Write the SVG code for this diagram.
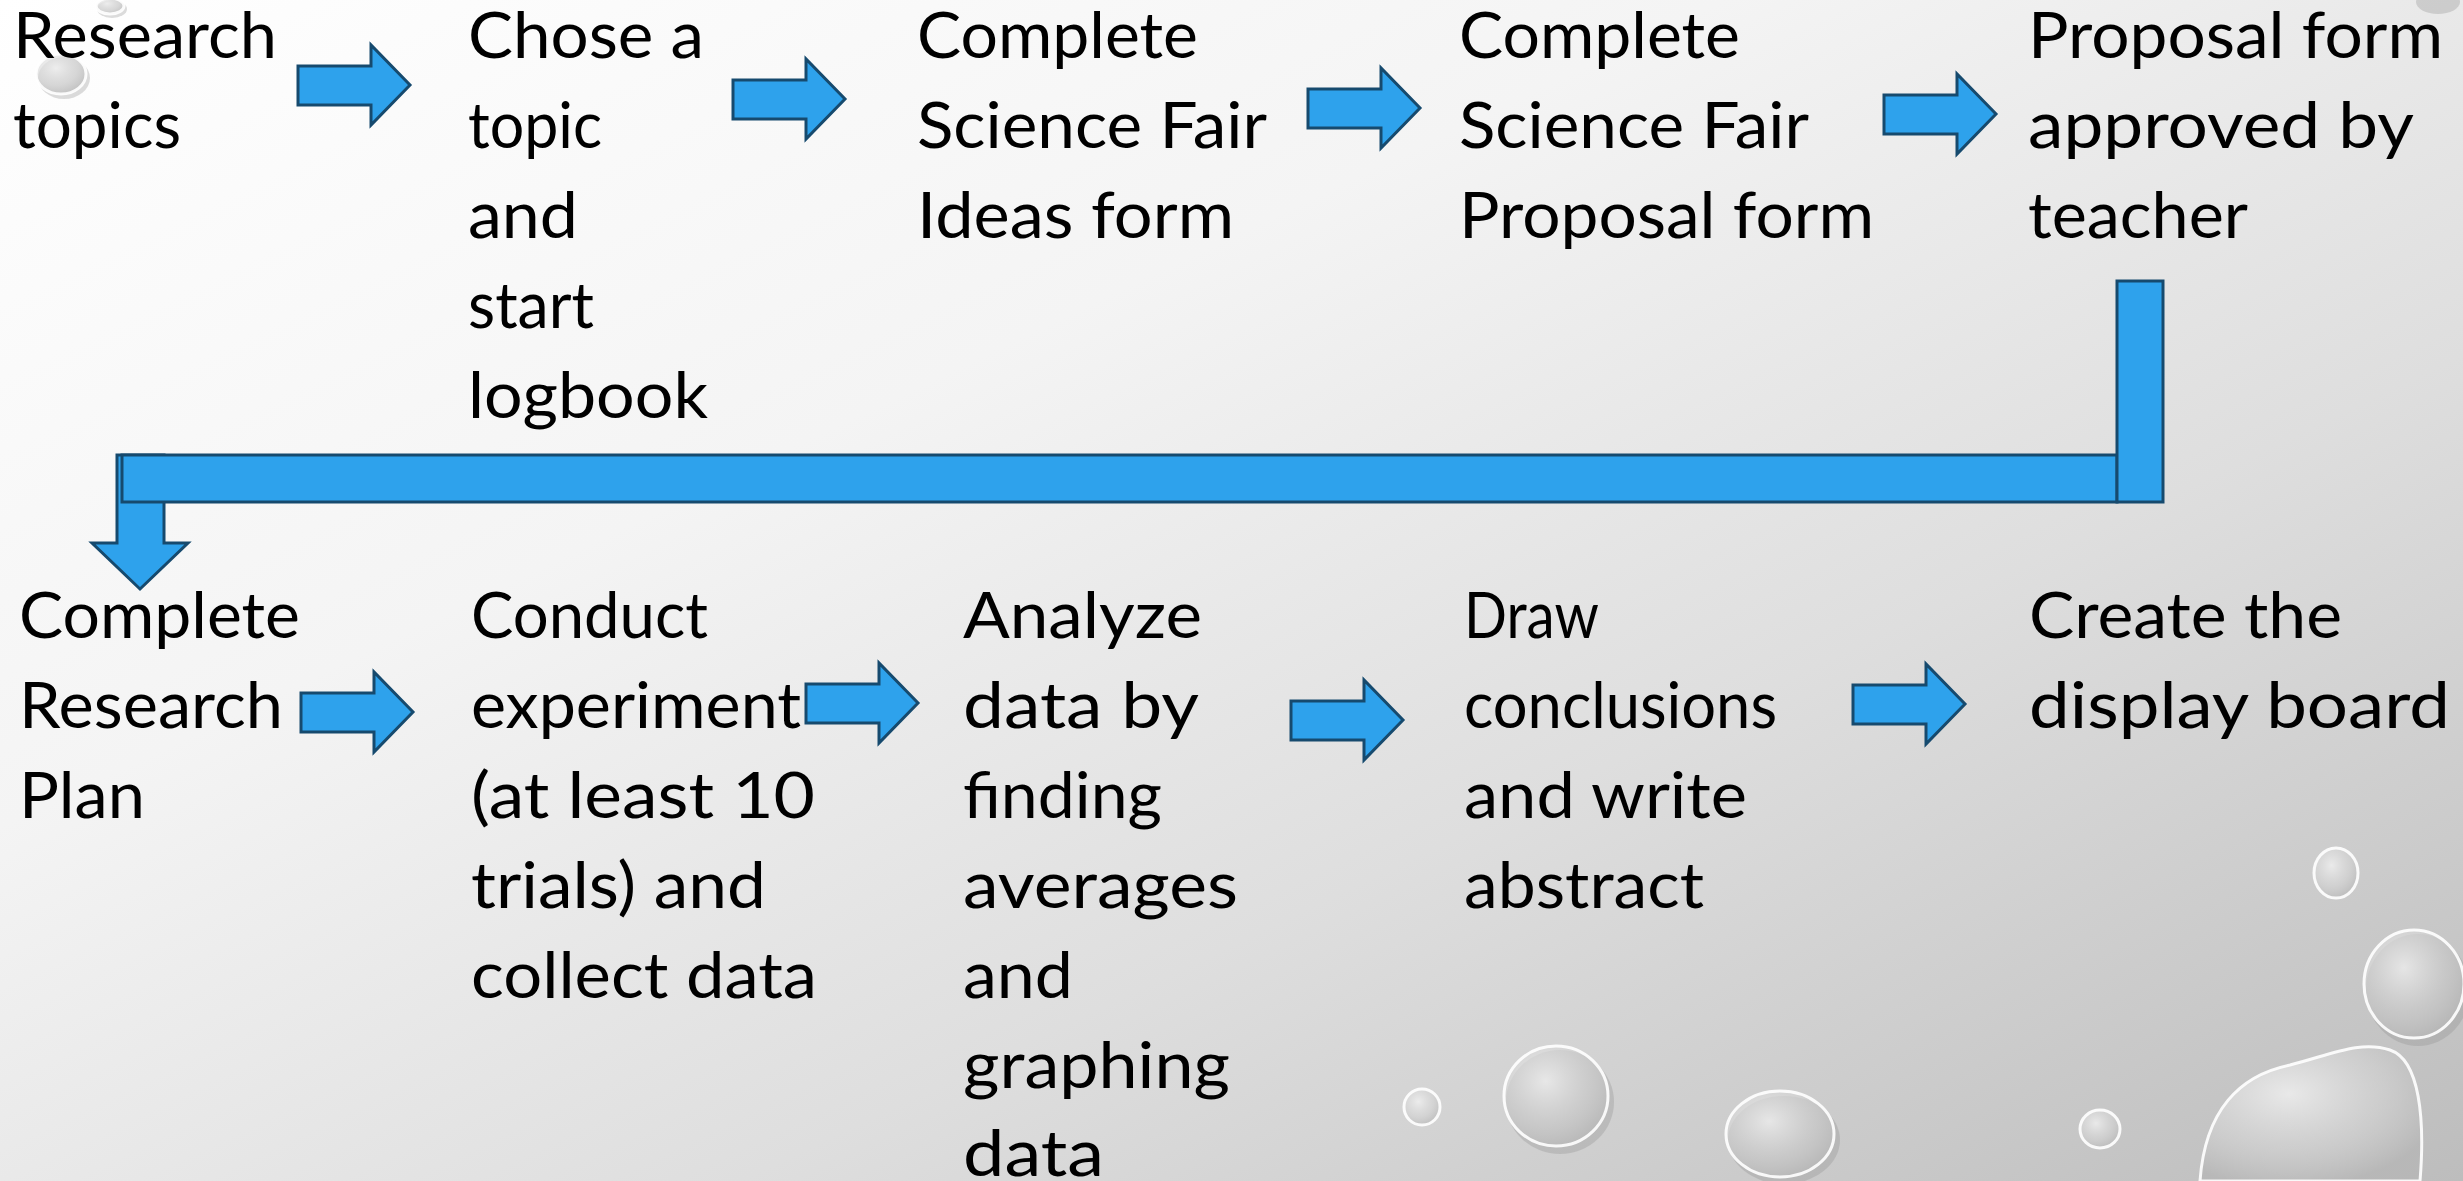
<svg xmlns="http://www.w3.org/2000/svg" width="2463" height="1181" viewBox="0 0 2463 1181">
<defs>
<linearGradient id="bg" x1="0" y1="0" x2="1" y2="1">
<stop offset="0" stop-color="#ffffff"/>
<stop offset="0.35" stop-color="#f4f4f4"/>
<stop offset="0.65" stop-color="#dedede"/>
<stop offset="1" stop-color="#bdbdbd"/>
</linearGradient>
<radialGradient id="drop" cx="0.4" cy="0.35" r="0.7">
<stop offset="0" stop-color="#f2f2f2" stop-opacity="0.8"/>
<stop offset="0.6" stop-color="#d4d4d4" stop-opacity="0.6"/>
<stop offset="1" stop-color="#b5b5b5" stop-opacity="0.75"/>
</radialGradient>
<polygon id="rarrow" points="0,21 73,21 73,0 112,40 73,80 73,60 0,60"/>
</defs>
<style>
.lbl{font-family:Lato,"Open Sans","Liberation Sans",sans-serif;font-size:64px;fill:#000}
.arr{fill:#2ea2ec;stroke:#164a6e;stroke-width:3;stroke-linejoin:miter}
.drop{fill:url(#drop);stroke:#ffffff;stroke-width:3;stroke-opacity:0.9}
.shadow{fill:#8a8a8a;opacity:0.3}
</style>
<rect x="0" y="0" width="2463" height="1181" fill="url(#bg)"/>
<g id="decor">
<ellipse class="shadow" cx="64" cy="78" rx="26" ry="21"/>
<ellipse class="drop" cx="61" cy="74" rx="25" ry="20"/>
<ellipse class="shadow" cx="112" cy="9" rx="15" ry="9"/>
<ellipse class="drop" cx="110" cy="6" rx="14" ry="8"/>
<ellipse class="shadow" cx="2438" cy="2" rx="22" ry="12"/>
<ellipse class="drop" cx="2336" cy="873" rx="22" ry="25"/>
<ellipse class="shadow" cx="2418" cy="990" rx="52" ry="56"/>
<ellipse class="drop" cx="2414" cy="984" rx="50" ry="54"/>
<ellipse class="shadow" cx="1560" cy="1102" rx="54" ry="52"/>
<ellipse class="drop" cx="1556" cy="1096" rx="52" ry="50"/>
<ellipse class="drop" cx="1422" cy="1107" rx="18" ry="18"/>
<ellipse class="shadow" cx="1784" cy="1140" rx="56" ry="44"/>
<ellipse class="drop" cx="1780" cy="1134" rx="54" ry="43"/>
<ellipse class="drop" cx="2100" cy="1129" rx="20" ry="19"/>
<path class="drop" d="M2200,1181 C2205,1110 2240,1075 2290,1065 C2330,1055 2360,1040 2390,1050 C2420,1060 2425,1120 2420,1181 Z"/>
</g>
<g id="connectors">
<use href="#rarrow" class="arr" transform="translate(298,45)"/>
<use href="#rarrow" class="arr" transform="translate(733,59)"/>
<use href="#rarrow" class="arr" transform="translate(1308,68)"/>
<use href="#rarrow" class="arr" transform="translate(1884,74)"/>
<use href="#rarrow" class="arr" transform="translate(301,672)"/>
<use href="#rarrow" class="arr" transform="translate(806,663)"/>
<use href="#rarrow" class="arr" transform="translate(1291,680)"/>
<use href="#rarrow" class="arr" transform="translate(1853,664)"/>
<g id="bent-arrow">
<polygon class="arr" points="117,455 164,455 164,543 188,543 140,589 92,543 117,543"/>
<rect class="arr" x="122" y="455" width="1995" height="47"/>
<rect class="arr" x="2117" y="281" width="46" height="221"/>
</g>
</g>
<g id="n1"><text class="lbl" x="13" y="58" textLength="264" lengthAdjust="spacingAndGlyphs">Research</text><text class="lbl" x="13" y="148" textLength="168" lengthAdjust="spacingAndGlyphs">topics</text></g>
<g id="n2"><text class="lbl" x="468" y="58" textLength="236" lengthAdjust="spacingAndGlyphs">Chose a</text><text class="lbl" x="468" y="148" textLength="134" lengthAdjust="spacingAndGlyphs">topic</text><text class="lbl" x="468" y="238" textLength="110" lengthAdjust="spacingAndGlyphs">and</text><text class="lbl" x="468" y="328" textLength="126" lengthAdjust="spacingAndGlyphs">start</text><text class="lbl" x="468" y="418" textLength="240" lengthAdjust="spacingAndGlyphs">logbook</text></g>
<g id="n3"><text class="lbl" x="917" y="58" textLength="281" lengthAdjust="spacingAndGlyphs">Complete</text><text class="lbl" x="917" y="148" textLength="350" lengthAdjust="spacingAndGlyphs">Science Fair</text><text class="lbl" x="917" y="238" textLength="317" lengthAdjust="spacingAndGlyphs">Ideas form</text></g>
<g id="n4"><text class="lbl" x="1459" y="58" textLength="281" lengthAdjust="spacingAndGlyphs">Complete</text><text class="lbl" x="1459" y="148" textLength="350" lengthAdjust="spacingAndGlyphs">Science Fair</text><text class="lbl" x="1459" y="238" textLength="415" lengthAdjust="spacingAndGlyphs">Proposal form</text></g>
<g id="n5"><text class="lbl" x="2028" y="58" textLength="415" lengthAdjust="spacingAndGlyphs">Proposal form</text><text class="lbl" x="2028" y="148" textLength="386" lengthAdjust="spacingAndGlyphs">approved by</text><text class="lbl" x="2028" y="238" textLength="220" lengthAdjust="spacingAndGlyphs">teacher</text></g>
<g id="n6"><text class="lbl" x="19" y="638" textLength="281" lengthAdjust="spacingAndGlyphs">Complete</text><text class="lbl" x="19" y="728" textLength="264" lengthAdjust="spacingAndGlyphs">Research</text><text class="lbl" x="19" y="818" textLength="126" lengthAdjust="spacingAndGlyphs">Plan</text></g>
<g id="n7"><text class="lbl" x="471" y="638" textLength="237" lengthAdjust="spacingAndGlyphs">Conduct</text><text class="lbl" x="471" y="728" textLength="330" lengthAdjust="spacingAndGlyphs">experiment</text><text class="lbl" x="471" y="818" textLength="344" lengthAdjust="spacingAndGlyphs">(at least 10</text><text class="lbl" x="471" y="908" textLength="295" lengthAdjust="spacingAndGlyphs">trials) and</text><text class="lbl" x="471" y="998" textLength="346" lengthAdjust="spacingAndGlyphs">collect data</text></g>
<g id="n8"><text class="lbl" x="963" y="638" textLength="239" lengthAdjust="spacingAndGlyphs">Analyze</text><text class="lbl" x="963" y="728" textLength="236" lengthAdjust="spacingAndGlyphs">data by</text><text class="lbl" x="963" y="818" textLength="199" lengthAdjust="spacingAndGlyphs">finding</text><text class="lbl" x="963" y="908" textLength="275" lengthAdjust="spacingAndGlyphs">averages</text><text class="lbl" x="963" y="998" textLength="110" lengthAdjust="spacingAndGlyphs">and</text><text class="lbl" x="963" y="1088" textLength="267" lengthAdjust="spacingAndGlyphs">graphing</text><text class="lbl" x="963" y="1176" textLength="141" lengthAdjust="spacingAndGlyphs">data</text></g>
<g id="n9"><text class="lbl" x="1464" y="638" textLength="135" lengthAdjust="spacingAndGlyphs">Draw</text><text class="lbl" x="1464" y="728" textLength="313" lengthAdjust="spacingAndGlyphs">conclusions</text><text class="lbl" x="1464" y="818" textLength="283" lengthAdjust="spacingAndGlyphs">and write</text><text class="lbl" x="1464" y="908" textLength="240" lengthAdjust="spacingAndGlyphs">abstract</text></g>
<g id="n10"><text class="lbl" x="2029" y="638" textLength="313" lengthAdjust="spacingAndGlyphs">Create the</text><text class="lbl" x="2029" y="728" textLength="421" lengthAdjust="spacingAndGlyphs">display board</text></g>
</svg>
